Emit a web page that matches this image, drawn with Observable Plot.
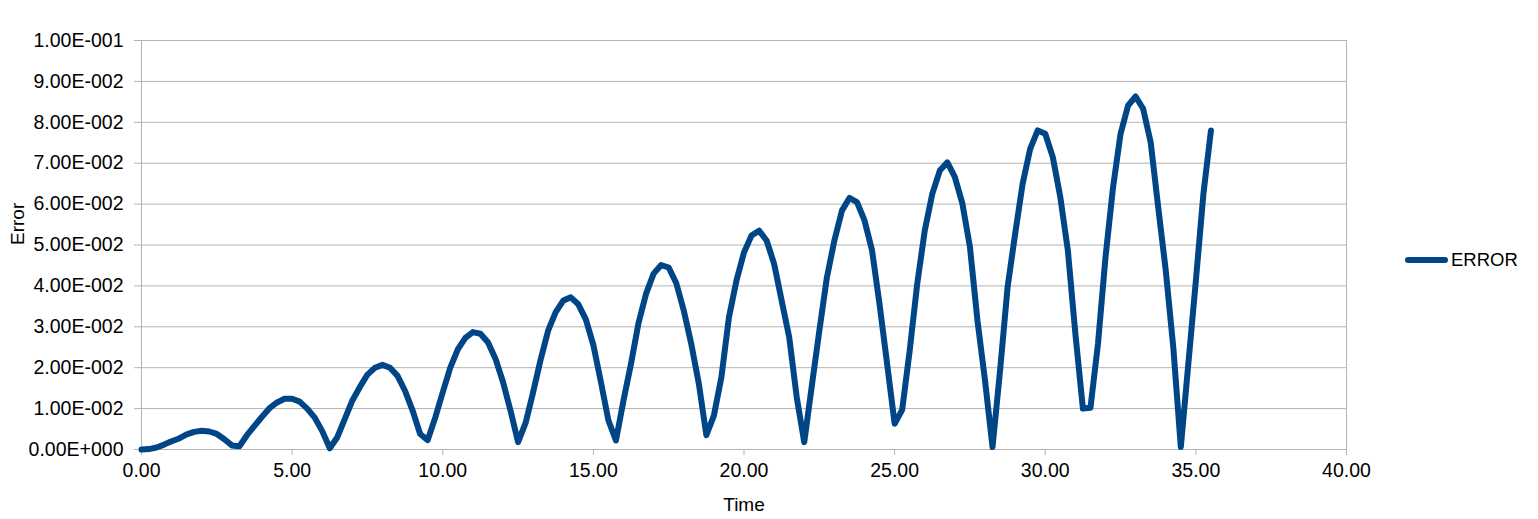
<!DOCTYPE html>
<html><head><meta charset="utf-8">
<script src="https://cdn.jsdelivr.net/npm/d3@7"></script>
<script src="https://cdn.jsdelivr.net/npm/@observablehq/plot@0.6"></script>
<style>
body{margin:0;background:#fff;font-family:"Liberation Sans",Arial,sans-serif;}
#wrap{position:relative;width:1538px;height:519px;}
#legend{position:absolute;left:1405px;top:249px;display:flex;align-items:center;font-size:18.5px;color:#000;}
#legend .sw{width:43px;height:6px;border-radius:3px;background:#004586;margin-right:3px;}
</style></head><body><div id="wrap"><div id="legend"><span class="sw"></span><span>ERROR</span></div></div>
<script>
const times = [0,0.25,0.5,0.75,1,1.25,1.5,1.75,2,2.25,2.5,2.75,3,3.25,3.5,3.75,4,4.25,4.5,4.75,5,5.25,5.5,5.75,6,6.25,6.5,6.75,7,7.25,7.5,7.75,8,8.25,8.5,8.75,9,9.25,9.5,9.75,10,10.25,10.5,10.75,11,11.25,11.5,11.75,12,12.25,12.5,12.75,13,13.25,13.5,13.75,14,14.25,14.5,14.75,15,15.25,15.5,15.75,16,16.25,16.5,16.75,17,17.25,17.5,17.75,18,18.25,18.5,18.75,19,19.25,19.5,19.75,20,20.25,20.5,20.75,21,21.25,21.5,21.75,22,22.25,22.5,22.75,23,23.25,23.5,23.75,24,24.25,24.5,24.75,25,25.25,25.5,25.75,26,26.25,26.5,26.75,27,27.25,27.5,27.75,28,28.25,28.5,28.75,29,29.25,29.5,29.75,30,30.25,30.5,30.75,31,31.25,31.5,31.75,32,32.25,32.5,32.75,33,33.25,33.5,33.75,34,34.25,34.5,34.75,35,35.25,35.5];
const errors = [
0.0000,0.0001,0.0005,0.0012,0.0020,0.0027,0.0037,0.0043,0.0046,0.0044,0.0038,0.0025,0.0010,0.0008,
0.0035,0.0058,0.0080,0.0101,0.0115,0.0124,0.0124,0.0117,0.0100,0.0078,0.0045,0.0003,
0.0030,0.0075,0.0120,0.0153,0.0183,0.0200,0.0207,0.0200,0.0180,0.0143,0.0095,0.0038,0.0023,
0.0078,0.0140,0.0200,0.0245,0.0273,0.0287,0.0283,0.0262,0.0222,0.0165,0.0095,0.0018,
0.0065,0.0140,0.0220,0.0291,0.0336,0.0364,0.0372,0.0355,0.0318,0.0255,0.0165,0.0071,0.0022,
0.0120,0.0210,0.0310,0.0381,0.0430,0.0451,0.0445,0.0407,0.0340,0.0258,0.0161,0.0035,
0.0083,0.0177,0.0323,0.0413,0.0482,0.0523,0.0535,0.0511,0.0454,0.0364,0.0275,0.0128,0.0018,
0.0155,0.0290,0.0420,0.0511,0.0584,0.0615,0.0605,0.0560,0.0487,0.0355,0.0210,0.0063,
0.0097,0.0242,0.0405,0.0535,0.0625,0.0682,0.0702,0.0666,0.0601,0.0495,0.0315,0.0169,0.0006,
0.0193,0.0397,0.0527,0.0650,0.0735,0.0780,0.0772,0.0715,0.0617,0.0487,0.0283,0.0100,
0.0102,0.0258,0.0470,0.0641,0.0772,0.0841,0.0863,0.0833,0.0751,0.0592,0.0438,0.0250,0.0006,
0.0210,0.0413,0.0625,0.0780];
const xTicks = [0,5,10,15,20,25,30,35,40];
const yTicks = [0,0.01,0.02,0.03,0.04,0.05,0.06,0.07,0.08,0.09,0.1];
const seriesName = "ERROR";
const xLabel = "Time";
const yLabel = "Error";

const data = times.map((t,i)=>({t, e: errors[i]}));
const sci = v => {
  const [m,e] = v.toExponential(2).split("e");
  const n = Math.abs(+e);
  return m.toUpperCase() + "E" + (+e < 0 ? "-" : "+") + String(n).padStart(3,"0");
};
const grid = "#b3b3b3";
const chart = Plot.plot({
  width: 1538, height: 519,
  marginLeft: 141, marginRight: 192, marginTop: 40, marginBottom: 70,
  style: {fontFamily: "'Liberation Sans', Arial, sans-serif", fontSize: "19px", color: "#000", background: "#fff"},
  x: {domain: [0,40]},
  y: {domain: [0,0.1]},
  marks: [
    Plot.ruleY(yTicks, {stroke: grid, strokeWidth: 1}),
    Plot.ruleX([0,40], {stroke: grid, strokeWidth: 1}),
    Plot.axisY({ticks: yTicks, tickFormat: sci, tickSize: 7, tickPadding: 11, stroke: grid, label: null, strokeOpacity: 1, fontSize: 19.5}),
    Plot.axisX({ticks: xTicks, tickFormat: d3.format(".2f"), tickSize: 6, tickPadding: 8, stroke: grid, label: null, strokeOpacity: 1, fontSize: 19.5}),
    Plot.line(data, {x: "t", y: "e", stroke: "#004586", strokeWidth: 6, strokeLinejoin: "round", strokeLinecap: "round"}),
    Plot.text([yLabel], {frameAnchor: "left", dx: -124, rotate: -90, text: d => d, fontSize: 19}),
    Plot.text([xLabel], {frameAnchor: "bottom", dy: 61, text: d => d, fontSize: 19})
  ]
});
document.getElementById("wrap").prepend(chart);
</script></body></html>
